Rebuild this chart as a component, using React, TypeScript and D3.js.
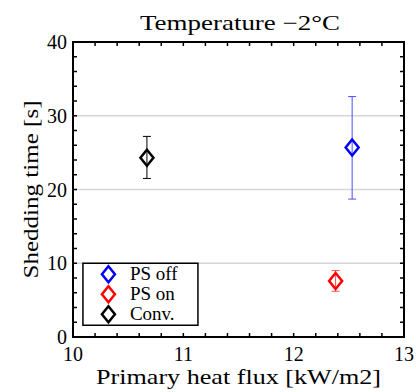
import React from "react";
import * as d3 from "d3";

const seriesNames = ["PS off", "PS on", "Conv."];
const seriesColors = ["#0000ff", "#ff0000", "#000000"];
const errorColors = ["#4d4dff", "#ff5050", "#000000"];
const heatFlux = [12.53, 12.38, 10.67];
const sheddingTime = [25.7, 7.6, 24.3];
const errLow = [18.7, 6.2, 21.5];
const errHigh = [32.6, 9.0, 27.2];
const xTicks = [10, 11, 12, 13];
const yTicks = [0, 10, 20, 30, 40];
const gridTicks = [10, 20, 30];

const W = 416;
const H = 392;
const FONT = "Liberation Serif";

class App extends React.Component {
  private svgRef: React.RefObject<SVGSVGElement>;
  constructor(props: {}) {
    super(props);
    this.svgRef = React.createRef();
  }

  componentDidMount() {
    this.draw();
  }

  draw() {
    if (!this.svgRef.current) return;
    const margin = { top: 42, right: 12, bottom: 55, left: 73 };
    const cw = W - margin.left - margin.right;
    const ch = H - margin.top - margin.bottom;

    const svg = d3.select<SVGSVGElement, unknown>(this.svgRef.current);
    svg.selectAll("*").remove();
    svg.append("rect").attr("width", W).attr("height", H).attr("fill", "#fff");

    const x = d3.scaleLinear().domain([10, 13]).range([0, cw]);
    const y = d3.scaleLinear().domain([0, 40]).range([ch, 0]);

    const g = svg
      .append("g")
      .attr("transform", `translate(${margin.left},${margin.top})`);

    // grid
    g.selectAll(".grid")
      .data(gridTicks)
      .join("line")
      .attr("x1", 0)
      .attr("x2", cw)
      .attr("y1", (d) => y(d))
      .attr("y2", (d) => y(d))
      .attr("stroke", "#d6d6d6")
      .attr("stroke-width", 1.5);

    // ticks on all four sides, pointing in
    const xMinor = d3.range(10, 13.001, 0.2);
    const yMinor = d3.range(0, 40.001, 2);
    const tl = 4;
    const ticks = g.append("g").attr("stroke", "#000").attr("stroke-width", 1.5);
    xMinor.forEach((v) => {
      ticks.append("line").attr("x1", x(v)).attr("x2", x(v)).attr("y1", ch).attr("y2", ch - tl);
      ticks.append("line").attr("x1", x(v)).attr("x2", x(v)).attr("y1", 0).attr("y2", tl);
    });
    yMinor.forEach((v) => {
      ticks.append("line").attr("x1", 0).attr("x2", tl).attr("y1", y(v)).attr("y2", y(v));
      ticks.append("line").attr("x1", cw).attr("x2", cw - tl).attr("y1", y(v)).attr("y2", y(v));
    });

    // tick labels
    g.selectAll(".xl")
      .data(xTicks)
      .join("text")
      .attr("x", (d) => x(d))
      .attr("y", ch + 24)
      .attr("text-anchor", "middle")
      .attr("font-family", FONT)
      .attr("font-size", 20)
      .text((d) => d);
    g.selectAll(".yl")
      .data(yTicks)
      .join("text")
      .attr("x", -6)
      .attr("y", (d) => y(d) + 7)
      .attr("text-anchor", "end")
      .attr("font-family", FONT)
      .attr("font-size", 20)
      .text((d) => d);

    // error bars
    const idx = d3.range(seriesNames.length);
    const cap = 4;
    idx.forEach((i) => {
      const cx = x(heatFlux[i]);
      const eg = g.append("g").attr("stroke", errorColors[i]).attr("stroke-width", 1);
      eg.append("line").attr("x1", cx).attr("x2", cx).attr("y1", y(errLow[i])).attr("y2", y(errHigh[i]));
      eg.append("line").attr("x1", cx - cap).attr("x2", cx + cap).attr("y1", y(errLow[i])).attr("y2", y(errLow[i]));
      eg.append("line").attr("x1", cx - cap).attr("x2", cx + cap).attr("y1", y(errHigh[i])).attr("y2", y(errHigh[i]));
    });

    const diamond = (cx: number, cy: number) =>
      `M${cx},${cy - 8}L${cx + 6.5},${cy}L${cx},${cy + 8}L${cx - 6.5},${cy}Z`;

    g.selectAll(".pt")
      .data(idx)
      .join("path")
      .attr("d", (i) => diamond(x(heatFlux[i]), y(sheddingTime[i])))
      .attr("fill", "none")
      .attr("stroke", (i) => seriesColors[i])
      .attr("stroke-width", 2.5);

    // frame
    g.append("rect")
      .attr("width", cw)
      .attr("height", ch)
      .attr("fill", "none")
      .attr("stroke", "#000")
      .attr("stroke-width", 2);

    // legend
    const lg = g.append("g").attr("transform", `translate(${x(10.09)},${y(10)})`);
    lg.append("rect")
      .attr("width", 115)
      .attr("height", 62)
      .attr("fill", "#fff")
      .attr("stroke", "#000")
      .attr("stroke-width", 1.5);
    idx.forEach((i) => {
      const ly = 11 + i * 20;
      lg.append("path")
        .attr("d", diamond(25.5, ly))
        .attr("fill", "none")
        .attr("stroke", seriesColors[i])
        .attr("stroke-width", 2.5);
      lg.append("text")
        .attr("x", 47)
        .attr("y", ly + 6)
        .attr("font-family", FONT)
        .attr("font-size", 19)
        .text(seriesNames[i]);
    });

    // axis labels and title
    const label = (t: string, len: number) =>
      svg
        .append("text")
        .attr("text-anchor", "middle")
        .attr("font-family", FONT)
        .attr("font-size", 21)
        .attr("textLength", len)
        .attr("lengthAdjust", "spacingAndGlyphs")
        .text(t);
    label("Primary heat flux [kW/m2]", 285)
      .attr("x", margin.left + cw / 2)
      .attr("y", 384);
    label("Shedding time [s]", 178).attr(
      "transform",
      `translate(38,${margin.top + ch / 2}) rotate(-90)`
    );
    label("Temperature \u22122\u00B0C", 200).attr("x", 240).attr("y", 30);
  }

  render() {
    return (
      <svg
        ref={this.svgRef}
        width={W}
        height={H}
        style={{ position: "absolute", left: 0, top: 0 }}
      ></svg>
    );
  }
}

export default App;
